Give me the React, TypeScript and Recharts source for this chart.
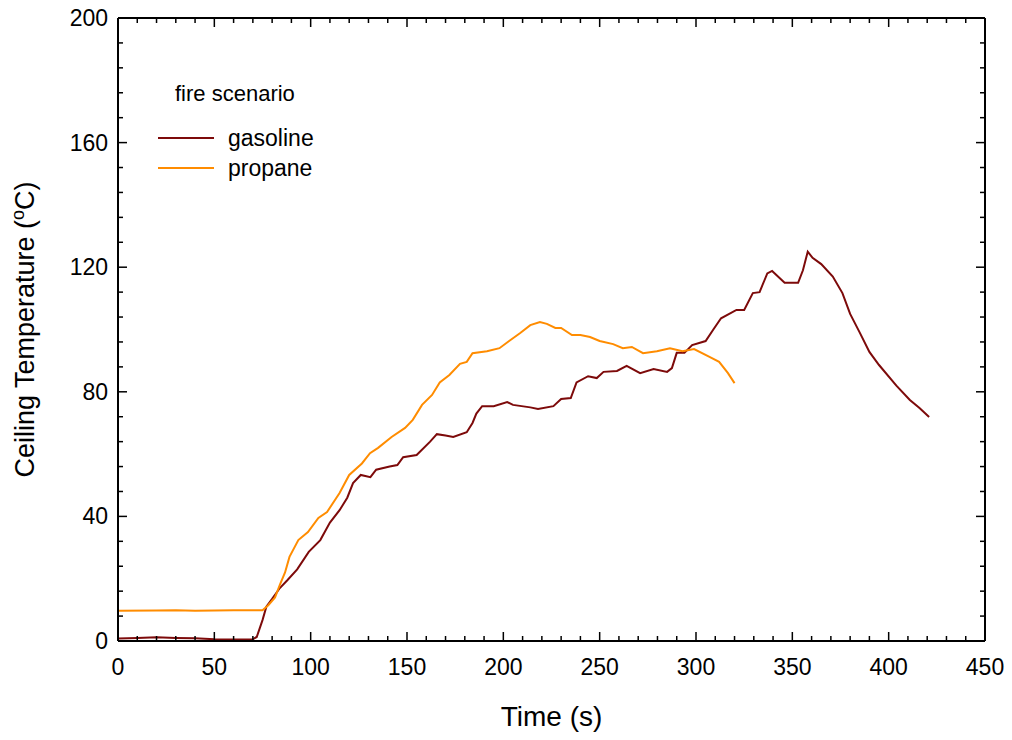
import { LineChart, Line, XAxis, YAxis, ReferenceLine } from "recharts";

// [time (s), ceiling temperature (°C)]
const gasoline: [number, number][] = [
  [0, 0.8], [10, 1.0], [20, 1.2], [30, 1.0], [40, 0.9], [50, 0.6], [60, 0.5], [70, 0.6],
  [72, 1.3], [75, 6.7], [77, 11], [80, 13.5], [84, 17], [88, 19.6], [93, 23], [99, 28.6],
  [105, 32.4], [110, 38], [115, 42], [119, 46], [122, 50.7], [126, 53.3], [131, 52.6],
  [134, 55], [141, 56], [145, 56.5], [148, 59], [155, 59.7], [162, 64], [165.5, 66.4],
  [170, 66], [174, 65.5], [181, 67], [184, 70], [186, 73], [189, 75.4], [195, 75.4],
  [202, 76.7], [205, 75.8], [214, 75], [218, 74.5], [226, 75.4], [230, 77.7], [235, 78],
  [238, 83], [244, 85], [248.5, 84.4], [252, 86.4], [259, 86.7], [264, 88.3], [271, 86],
  [278, 87.3], [285, 86.4], [287.5, 87.6], [290, 92.5], [294, 92.5], [298, 95], [305, 96.3],
  [309, 100], [313, 103.6], [321, 106.3], [325, 106.3], [329.5, 111.7], [333, 112],
  [337, 118], [339.5, 118.8], [346, 115], [353, 115], [355.5, 119], [358, 125], [360.5, 123],
  [365, 121], [371, 117], [376, 111.7], [380, 105], [385, 99], [390, 92.8], [395, 88.6],
  [404, 82], [411, 77.4], [416, 74.8], [421, 71.9],
];

const propane: [number, number][] = [
  [0, 9.7], [20, 9.8], [30, 9.9], [40, 9.7], [50, 9.8], [60, 9.9], [70, 9.9], [75, 9.9],
  [78, 11.5], [81.5, 14], [84, 18], [86.7, 22], [89, 27], [93.6, 32.4], [98.6, 35],
  [104, 39.5], [108.5, 41.4], [115, 47.5], [120, 53.3], [126.6, 57], [130.8, 60.3],
  [135, 62], [142, 65.5], [149, 68.4], [153, 71], [157.8, 75.8], [163, 79], [167, 83],
  [172, 85.4], [177.5, 89], [181, 89.6], [184, 92.4], [191.5, 93], [198, 94], [203, 96.3],
  [208.6, 98.8], [214, 101.4], [219, 102.4], [222.6, 101.8], [227, 100.5], [230, 100.5],
  [235.6, 98.2], [240, 98.2], [245, 97.6], [250, 96.3], [257, 95.3], [262, 94],
  [266.7, 94.4], [272.5, 92.4], [279.7, 93], [286.5, 94], [293, 93], [299, 93.7],
  [307, 91.2], [312, 89.6], [316.6, 86], [320, 82.8],
];

const xMajorTicks = [0, 50, 100, 150, 200, 250, 300, 350, 400, 450];
const yMajorTicks = [0, 40, 80, 120, 160, 200];
const minorPerMajor = 5;

const withMinor = (majors: number[]) => {
  const out: number[] = [];
  for (let i = 0; i < majors.length - 1; i++) {
    const step = (majors[i + 1] - majors[i]) / minorPerMajor;
    for (let k = 0; k < minorPerMajor; k++) out.push(majors[i] + k * step);
  }
  out.push(majors[majors.length - 1]);
  return out;
};

const xTicks = withMinor(xMajorTicks);
const yTicks = withMinor(yMajorTicks);

const gasData = gasoline.map(([t, v]) => ({ t, v }));
const propData = propane.map(([t, v]) => ({ t, v }));

const FONT = "'Liberation Sans', Arial, sans-serif";
const GAS = "#7d0a0a";
const PROP = "#ff8c00";

// chart layout
const W = 1012;
const H = 740;
const M = { top: 18, right: 27, left: 0, bottom: 0 };
const Y_AXIS_W = 118;
const X_AXIS_H = 99;
const PLOT_W = W - Y_AXIS_W - M.right;
const PLOT_H = H - M.top - X_AXIS_H;

// inward ticks, mirrored on the opposite side of the frame
const XTick = (props: any) => {
  const x = Number(props.x);
  const y = Number(props.y);
  const v = props.payload.value;
  const major = xMajorTicks.includes(v);
  const len = major ? 9 : 5;
  return (
    <g>
      <line x1={x} y1={y} x2={x} y2={y - len} stroke="#000" strokeWidth={1.5} />
      <line x1={x} y1={y - PLOT_H} x2={x} y2={y - PLOT_H + len} stroke="#000" strokeWidth={1.5} />
      {major && (
        <text x={x} y={y + 34} textAnchor="middle" fontSize={23} fontFamily={FONT} fill="#000">
          {v}
        </text>
      )}
    </g>
  );
};

const YTick = (props: any) => {
  const x = Number(props.x);
  const y = Number(props.y);
  const v = props.payload.value;
  const major = yMajorTicks.includes(v);
  const len = major ? 9 : 5;
  return (
    <g>
      <line x1={x} y1={y} x2={x + len} y2={y} stroke="#000" strokeWidth={1.5} />
      <line x1={x + PLOT_W} y1={y} x2={x + PLOT_W - len} y2={y} stroke="#000" strokeWidth={1.5} />
      {major && (
        <text x={x - 10} y={y} dy="0.35em" textAnchor="end" fontSize={23} fontFamily={FONT} fill="#000">
          {v}
        </text>
      )}
    </g>
  );
};

const series = [
  { name: "gasoline", color: GAS },
  { name: "propane", color: PROP },
];

const LegendBox = () => (
  <div style={{ position: "absolute", left: 158, top: 83, fontFamily: FONT, color: "#000", lineHeight: 1 }}>
    <div style={{ fontSize: 22, marginLeft: 17, marginBottom: 18, whiteSpace: "nowrap" }}>fire scenario</div>
    {series.map((s) => (
      <div key={s.name} style={{ display: "flex", alignItems: "center", height: 30 }}>
        <svg width={56} height={4} style={{ marginRight: 14 }}>
          <line x1={0} y1={2} x2={56} y2={2} stroke={s.color} strokeWidth={2} />
        </svg>
        <span style={{ fontSize: 23 }}>{s.name}</span>
      </div>
    ))}
  </div>
);

export default function App() {
  return (
    <div style={{ position: "absolute", left: 0, top: 0, width: W, height: H, background: "#fff" }}>
      <LineChart width={W} height={H} margin={M}>
        <XAxis
          dataKey="t"
          type="number"
          domain={[0, 450]}
          ticks={xTicks}
          interval={0}
          height={X_AXIS_H}
          tickSize={0}
          tickMargin={0}
          tickLine={false}
          axisLine={{ stroke: "#000", strokeWidth: 2 }}
          tick={<XTick />}
          label={{
            content: ({ viewBox }: any) => (
              <text x={viewBox.x + viewBox.width / 2} y={726} textAnchor="middle" fontSize={28} fontFamily={FONT} fill="#000">
                Time (s)
              </text>
            ),
          }}
        />
        <YAxis
          type="number"
          domain={[0, 200]}
          ticks={yTicks}
          interval={0}
          width={Y_AXIS_W}
          tickSize={0}
          tickMargin={0}
          tickLine={false}
          axisLine={{ stroke: "#000", strokeWidth: 2 }}
          tick={<YTick />}
          label={{
            content: ({ viewBox }: any) => {
              const cx = 34;
              const cy = viewBox.y + viewBox.height / 2;
              return (
                <text
                  x={cx}
                  y={cy}
                  transform={`rotate(-90 ${cx} ${cy})`}
                  textAnchor="middle"
                  fontSize={27}
                  fontFamily={FONT}
                  fill="#000"
                >
                  Ceiling Temperature (
                  <tspan baselineShift="super" fontSize={18}>o</tspan>
                  <tspan>C)</tspan>
                </text>
              );
            },
          }}
        />
        <ReferenceLine y={200} stroke="#000" strokeWidth={2} ifOverflow="visible" />
        <ReferenceLine x={450} stroke="#000" strokeWidth={2} ifOverflow="visible" />
        <Line
          data={gasData}
          dataKey="v"
          name="gasoline"
          stroke={GAS}
          strokeWidth={2}
          dot={false}
          isAnimationActive={false}
        />
        <Line
          data={propData}
          dataKey="v"
          name="propane"
          stroke={PROP}
          strokeWidth={2}
          dot={false}
          isAnimationActive={false}
        />
      </LineChart>
      <LegendBox />
    </div>
  );
}
